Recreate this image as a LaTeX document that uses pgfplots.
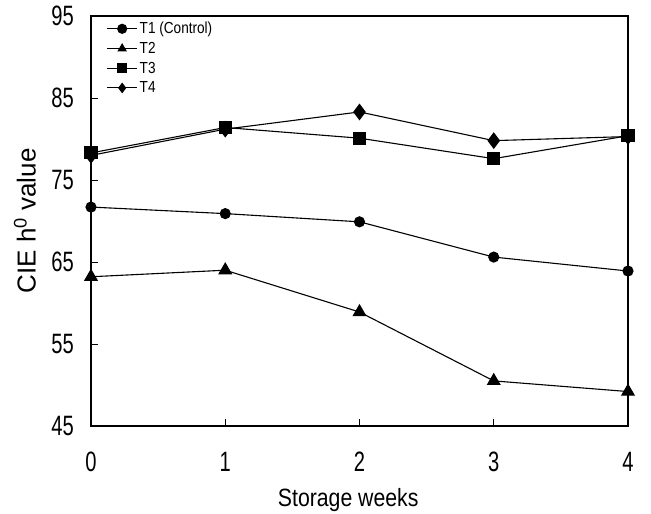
\documentclass[border=0pt]{standalone}
\usepackage{pgfplots}
\pgfplotsset{compat=1.18}
\usepackage{fontspec}
\setmainfont{Liberation Sans}[FakeStretch=0.85]
\newfontfamily\plainsans{Liberation Sans}
\newfontfamily\tickfont{Liberation Sans}[FakeStretch=0.72]
\begin{document}
\begin{tikzpicture}
\useasboundingbox (-91pt,-88pt) rectangle (560pt,426pt);
\begin{axis}[
  at={(0pt,0pt)}, anchor=south west,
  scale only axis, width=537pt, height=410pt,
  xmin=0, xmax=4, ymin=45, ymax=95,
  xtick={0,1,2,3,4}, ytick={45,55,65,75,85,95},
  tick align=inside, tick pos=left,
  major tick length=7pt,
  axis line style={line width=1.2pt},
  every tick/.style={black, line width=1pt},
  /pgf/number format/assume math mode=true,
  tick label style={font=\tickfont\fontsize{28}{28}\selectfont},
  yticklabel style={anchor=east, inner sep=0pt, xshift=-17pt},
  xticklabel style={anchor=center, inner sep=0pt, yshift=-36pt},
  xlabel={Storage weeks},
  ylabel={CIE h\textsuperscript{0} value},
  every axis x label/.style={at={(axis description cs:0.479,-0.1805)}, anchor=center, font=\fontsize{25}{25}\selectfont},
  every axis y label/.style={at={(axis description cs:-0.1229,0.5)}, anchor=center, rotate=90, font=\plainsans\fontsize{26}{26}\selectfont},
  legend style={draw=none, fill=none, at={(axis description cs:0.025,0.995)}, anchor=north west,
    font=\fontsize{16}{16}\selectfont, row sep=3pt, inner sep=2pt},
  legend cell align=left,
  legend image code/.code={\draw[mark repeat=2, mark phase=2, mark size=4.5pt] plot coordinates {(0pt,0pt) (15pt,0pt) (30pt,0pt)};},
  every axis plot/.append style={black, line width=1.1pt, mark options={solid}},
]
\addplot[mark=*, mark size=5pt] coordinates {(0,71.7) (1,70.9) (2,69.9) (3,65.6) (4,63.9)};
\addlegendentry{T1 (Control)}
\addplot[mark=triangle*, mark size=7pt] coordinates {(0,63.2) (1,64.0) (2,58.9) (3,50.5) (4,49.2)};
\addlegendentry{T2}
\addplot[mark=square*, mark size=6pt] coordinates {(0,78.3) (1,81.4) (2,80.1) (3,77.6) (4,80.4)};
\addlegendentry{T3}
\addplot[mark=diamond*, mark size=7.5pt] coordinates {(0,78.0) (1,81.2) (2,83.3) (3,79.8) (4,80.3)};
\addlegendentry{T4}
\end{axis}
\end{tikzpicture}
\end{document}
